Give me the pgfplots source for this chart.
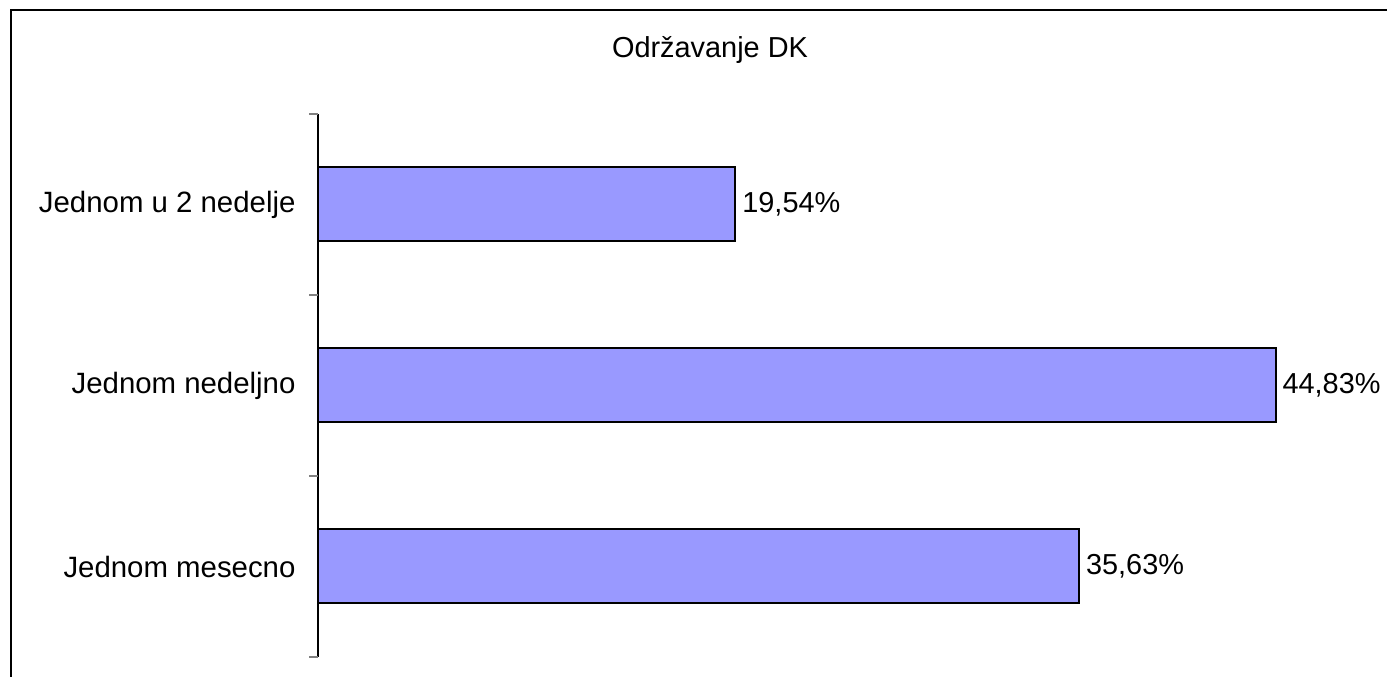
\documentclass[border=0pt]{standalone}
\usepackage{pgfplots}
\pgfplotsset{compat=1.18}
\usepackage{fontspec}
\setmainfont{Liberation Sans}
\definecolor{barfill}{HTML}{9999FF}
\begin{document}
\begin{tikzpicture}[x=1bp,y=1bp]
\useasboundingbox (0,0) rectangle (1387,677);
\draw[line width=2bp] (11,0) -- (11,667) -- (1387,667);
\node[anchor=base, font=\fontsize{29}{34}\selectfont] at (710,619) {Održavanje DK};
\begin{axis}[
  at={(318bp,20bp)}, anchor=south west,
  scale only axis, width=1068bp, height=543bp,
  xmin=0, xmax=50, ymin=-0.5, ymax=2.5,
  hide x axis,
  axis y line*=left,
  y axis line style={line width=1.2bp, black},
  xbar, bar width=74bp,
  ytick={0,1,2},
  yticklabels={Jednom mesecno, Jednom nedeljno, Jednom u 2 nedelje},
  major tick length=0pt,
  extra y ticks={-0.5,0.5,1.5,2.5},
  extra y tick labels={},
  extra y tick style={major tick length=9bp, tick align=outside, tick style={gray, line width=1.2bp}},
  yticklabel style={font=\fontsize{29.5}{34}\selectfont, xshift=-19bp},
  nodes near coords={\pgfmathprintnumber[fixed,fixed zerofill,precision=2,use comma,assume math mode=true]{\pgfplotspointmeta}\%},
  nodes near coords style={font=\fontsize{29}{34}\selectfont, anchor=west, inner sep=6bp},
  clip=false,
]
\addplot[fill=barfill, draw=black, line width=2bp] coordinates {(35.63,0) (44.83,1) (19.54,2)};
\end{axis}
\end{tikzpicture}
\end{document}
